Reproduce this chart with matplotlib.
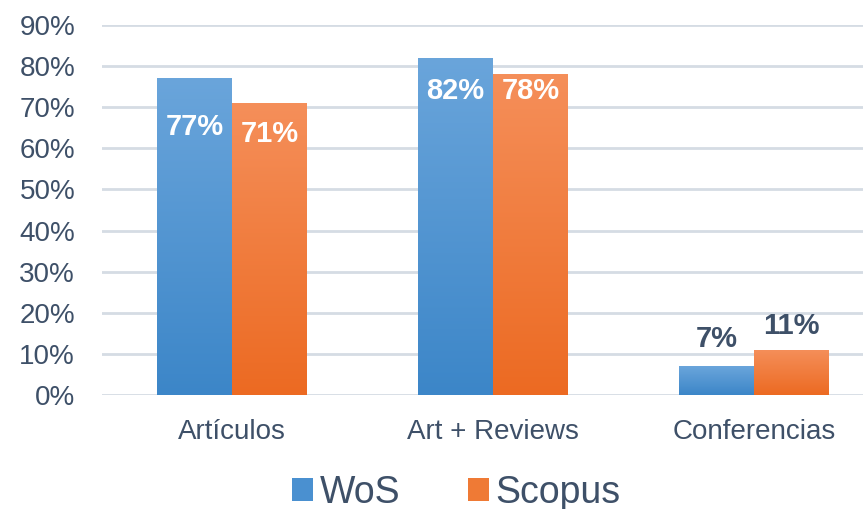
import matplotlib
matplotlib.use("Agg")
import matplotlib.pyplot as plt
import numpy as np
from matplotlib.colors import LinearSegmentedColormap
from matplotlib.patches import Patch

categories = ["Artículos", "Art + Reviews", "Conferencias"]
wos = [0.77, 0.82, 0.07]
scopus = [0.71, 0.78, 0.11]
series_names = ["WoS", "Scopus"]
yticks = [0, 0.1, 0.2, 0.3, 0.4, 0.5, 0.6, 0.7, 0.8, 0.9]

plt.rcParams['font.family'] = ['Liberation Sans', 'DejaVu Sans']
text_color = "#3E5068"
grid_color = "#D5DCE4"

fig = plt.figure(figsize=(8.63, 5.09), dpi=100)
W, H = 863, 509
ax = fig.add_axes([101.5 / W, 1 - 395 / H, 783 / W, 370 / H])

x = np.arange(len(categories))
bw = 0.287
blue_grad = LinearSegmentedColormap.from_list("b", ["#3C86C8", "#6AA5DB"])
orange_grad = LinearSegmentedColormap.from_list("o", ["#EC6A22", "#F58F5A"])

bars_w = ax.bar(x - bw / 2, wos, bw, color="#5B9BD5", zorder=2)
bars_s = ax.bar(x + bw / 2, scopus, bw, color="#ED7D31", zorder=2)

grad = np.linspace(0, 1, 256).reshape(-1, 1)
for bars, cmap in ((bars_w, blue_grad), (bars_s, orange_grad)):
    for b in bars:
        x0, y0 = b.get_x(), b.get_y()
        w, h = b.get_width(), b.get_height()
        im = ax.imshow(grad, cmap=cmap, origin="lower", aspect="auto",
                       extent=(x0, x0 + w, y0, y0 + h), zorder=3)
        im.set_clip_path(b)
        b.set_facecolor("none")

ax.set_xlim(-0.5, 2.5)
ax.set_ylim(0, 0.9)
ax.set_yticks(yticks)
ax.set_yticklabels([f"{int(round(t * 100))}%" for t in yticks])
ax.set_xticks(x)
ax.set_xticklabels(categories)
ax.tick_params(axis="y", length=0, pad=19, labelsize=20, labelcolor=text_color)
ax.tick_params(axis="x", length=0, pad=17, labelsize=20, labelcolor=text_color)
ax.grid(axis="y", color=grid_color, linewidth=2, zorder=0)
ax.set_axisbelow(True)
for s in ax.spines.values():
    s.set_visible(False)

# data labels (offsets in points, negative = inside bar)
offs_w = [-35, -24, 19.5]
offs_s = [-22, -12, 17]
for bars, vals, offs in ((bars_w, wos, offs_w), (bars_s, scopus, offs_s)):
    for b, v, o in zip(bars, vals, offs):
        col = "white" if o < 0 else text_color
        ax.annotate(f"{int(round(v * 100))}%",
                    (b.get_x() + b.get_width() / 2, b.get_height()),
                    xytext=(0, o), textcoords="offset points",
                    ha="center", va="center", fontsize=21,
                    fontweight="bold", color=col, zorder=5)

handles = [Patch(facecolor="#4A90D0", edgecolor="none"),
           Patch(facecolor="#EF7A35", edgecolor="none")]
fig.legend(handles, series_names, loc="center", bbox_to_anchor=(456 / W, 1 - 493 / H),
           ncol=2, frameon=False, fontsize=27, labelcolor=text_color,
           handlelength=0.56, handleheight=0.55, handletextpad=0.17,
           columnspacing=1.8, borderpad=0)

fig.savefig("out.png", dpi=100)
